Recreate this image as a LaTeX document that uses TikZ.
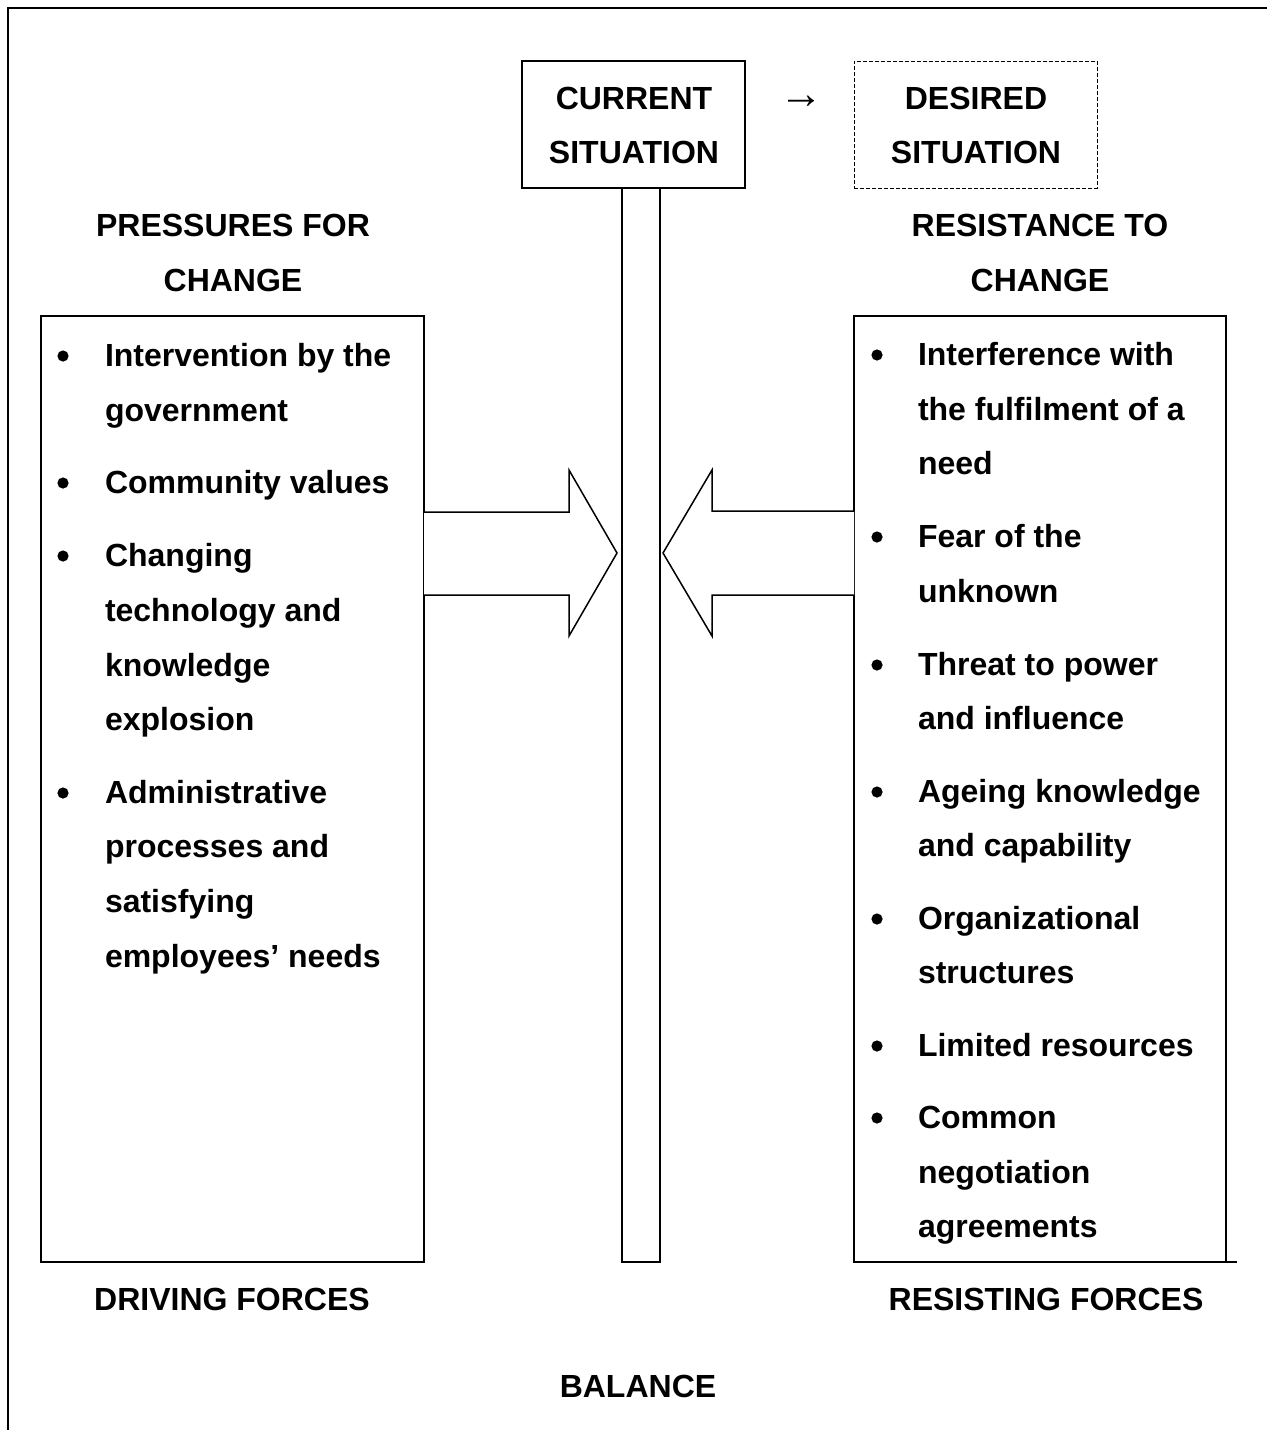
\documentclass[tikz,border=0pt]{standalone}
\usepackage{fontspec}
\setmainfont{Liberation Sans}
\begin{document}
\begin{tikzpicture}[x=0.5pt,y=-0.5pt,
  every node/.style={inner sep=0pt, outer sep=0pt},
  txt/.style={font=\bfseries\fontsize{16}{19}\selectfont},
  ln/.style={txt, anchor=base west},
  head/.style={txt, anchor=base},
  boxline/.style={draw, line width=0.6pt},
  blockarrow/.style={draw, line width=0.75pt, line join=miter, fill=white}]
\useasboundingbox (0,0) rectangle (1267,1430);

% outer frame (top and left edges only)
\draw[line width=0.6pt] (8,1430) -- (8,8) -- (1267,8);

% situation boxes
\node[boxline, minimum width=111.5pt, minimum height=63.5pt] (cur) at (633.5,124.5) {};
\node[draw, line width=0.45pt, dash pattern=on 2pt off 1pt,
      minimum width=121.5pt, minimum height=63.5pt] (des) at (975.5,124.5) {};
\node[head] (cur1) at (634,109) {CURRENT};
\node[head] (cur2) at (634,163) {SITUATION};
\node[head] (des1) at (976,109) {DESIRED};
\node[head] (des2) at (976,163) {SITUATION};
\node[font=\bfseries\fontsize{22}{24}\selectfont] (to) at (801,102) {→};

% balance bar
\node[boxline, minimum width=19pt, minimum height=537pt, anchor=north] (bar) at (641,188) {};

% headings
\node[head] (pl1) at (233,236) {PRESSURES FOR};
\node[head] (pl2) at (233,291) {CHANGE};
\node[head] (pr1) at (1040,236) {RESISTANCE TO};
\node[head] (pr2) at (1040,291) {CHANGE};

% force boxes
\node[boxline, minimum width=191.5pt, minimum height=473pt, anchor=north west] (lbox) at (41,316) {};
\node[boxline, minimum width=186pt, minimum height=473pt, anchor=north west] (rbox) at (854,316) {};
\draw[line width=0.6pt] (rbox.south east) -- ++(11,0);

% driving forces
\foreach \y/\t/\b in {
  354/Intervention by the/1, 409/government/0,
  481/Community values/1,
  554/Changing/1, 609/technology and/0, 664/knowledge/0, 718/explosion/0,
  791/Administrative/1, 845/processes and/0, 900/satisfying/0, 955/employees’ needs/0}{
  \node[ln] (l\y) at (105,\y+12) {\t};
  \ifnum\b=1 \fill (63,\y+2) circle[radius=2.8pt]; \fi
}

% resisting forces
\foreach \y/\t/\b in {
  353/Interference with/1, 408/the fulfilment of a/0, 462/need/0,
  535/Fear of the/1, 590/unknown/0,
  663/Threat to power/1, 717/and influence/0,
  790/Ageing knowledge/1, 844/and capability/0,
  917/Organizational/1, 971/structures/0,
  1044/Limited resources/1,
  1116/Common/1, 1171/negotiation/0, 1225/agreements/0}{
  \node[ln] (r\y) at (918,\y+12) {\t};
  \ifnum\b=1 \fill (877,\y+2) circle[radius=2.8pt]; \fi
}

% opposing block arrows
\draw[blockarrow] (lbox.east |- 0,512) -- (569,512) -- (569,470) -- ([xshift=-2.5pt]bar.west |- 0,553)
  -- (569,636) -- (569,595) -- (lbox.east |- 0,595);
\draw[blockarrow] (rbox.west |- 0,511) -- (712,511) -- (712,470) -- ([xshift=1.5pt]bar.east |- 0,553)
  -- (712,636) -- (712,595) -- (rbox.west |- 0,595);

% footer labels
\node[head] (df) at (232,1310) {DRIVING FORCES};
\node[head] (rf) at (1046,1310) {RESISTING FORCES};
\node[head] (bal) at (638,1397) {BALANCE};
\end{tikzpicture}
\end{document}
